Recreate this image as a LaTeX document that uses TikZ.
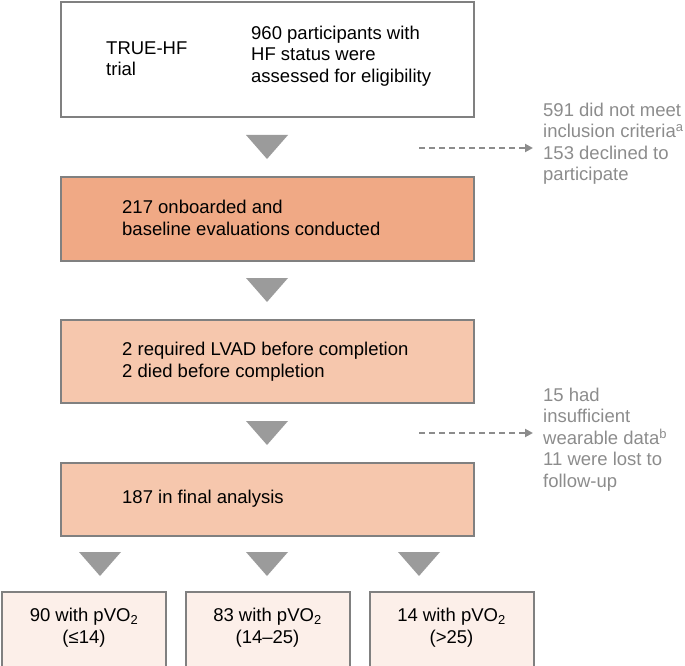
\documentclass[tikz,border=0pt]{standalone}
\usepackage{fontspec}
\setmainfont{Liberation Sans}
\usepackage{xcolor}
\usetikzlibrary{arrows.meta}

\definecolor{boxline}{RGB}{128,128,128}
\definecolor{trigray}{RGB}{155,155,155}
\definecolor{exclgray}{RGB}{140,140,140}
\definecolor{onboardfill}{RGB}{240,169,133}
\definecolor{stepfill}{RGB}{246,199,173}
\definecolor{groupfill}{RGB}{252,239,233}

\begin{document}
\begin{tikzpicture}[x=1pt, y=-1pt,
    box/.style={draw=boxline, line width=2pt, rectangle, minimum width=413pt, inner sep=0pt},
    groupbox/.style={box, fill=groupfill, minimum width=164pt, minimum height=75pt},
    boxtext/.style={inner sep=0pt, align=left, text=black, font=\fontsize{18.5}{21.5}\selectfont},
    excltext/.style={boxtext, text=exclgray},
    dashline/.style={draw=exclgray, line width=2pt, dash pattern=on 6pt off 4pt,
        -{Triangle[length=8pt, width=8pt]}, shorten >=10pt}]
    \useasboundingbox (0,0) rectangle (685,666);

    % Trial box
    \node[box, fill=white, minimum height=115pt] (trial) at (267.5,59.5) {};
    \node[boxtext, anchor=west] (trialname) at (106,58.5) {TRUE-HF\\trial};
    \node[boxtext, anchor=west] (assessed) at (251,56) {960 participants with\\HF status were\\assessed for eligibility};

    % Onboarded
    \node[box, fill=onboardfill, minimum height=84pt] (onboard) at (267.5,219) {};
    \node[boxtext, anchor=west] (onboardtxt) at (122,218) {217 onboarded and\\baseline evaluations conducted};

    % Withdrawn before completion
    \node[box, fill=stepfill, minimum height=83pt] (withdrawn) at (267.5,361.5) {};
    \node[boxtext, anchor=west] (withdrawntxt) at (122,361.5) {2 required LVAD before completion\\2 died before completion};

    % Final analysis
    \node[box, fill=stepfill, minimum height=73pt] (final) at (267.5,499.5) {};
    \node[boxtext, anchor=west] (finaltxt) at (122,498.5) {187 in final analysis};

    % pVO2 groups
    \node[groupbox] (low) at (84,629.5) {};
    \node[groupbox] (mid) at (267.5,629.5) {};
    \node[groupbox] (high) at (451.5,629.5) {};
    \node[boxtext, align=center] (lowtxt) at (84,627.5) {90 with pVO\textsubscript{2}\\(≤14)};
    \node[boxtext, align=center] (midtxt) at (267.5,627.5) {83 with pVO\textsubscript{2}\\(14–25)};
    \node[boxtext, align=center] (hightxt) at (451.5,627.5) {14 with pVO\textsubscript{2}\\(>25)};

    % Flow triangles
    \foreach \cx/\cy in {267/147, 267/290, 267/433, 100/564, 267/564, 419/564}
        \fill[trigray] (\cx-21,\cy-12) -- (\cx+21,\cy-12) -- (\cx,\cy+12) -- cycle;

    % Exclusions
    \node[excltext, anchor=west] (excl1) at (543,143.5) {591 did not meet\\inclusion criteria\textsuperscript{a}\\153 declined to\\participate};
    \node[excltext, anchor=west] (excl2) at (543,439.5) {15 had\\insufficient\\wearable data\textsuperscript{b}\\11 were lost to\\follow-up};
    \coordinate (cut1) at (419,148);
    \coordinate (cut2) at (419,433);
    \draw[dashline] (cut1) -- (cut1 -| excl1.west);
    \draw[dashline] (cut2) -- (cut2 -| excl2.west);
\end{tikzpicture}
\end{document}
